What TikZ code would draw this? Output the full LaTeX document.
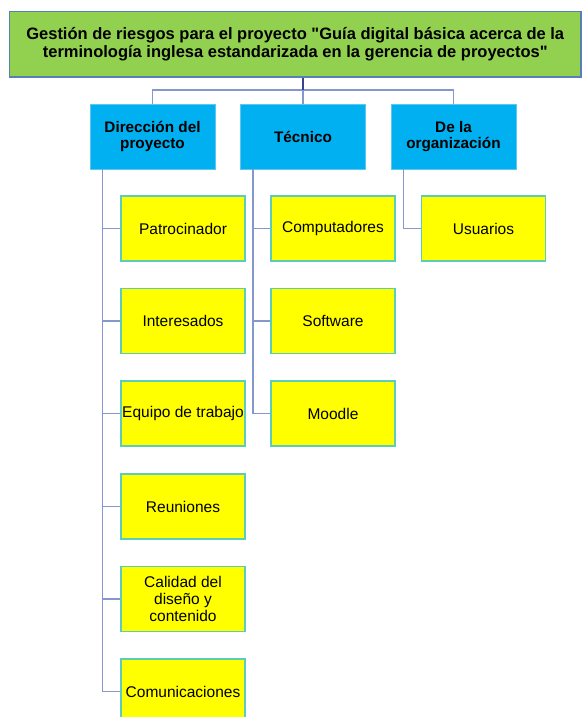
\documentclass[tikz,border=0pt]{standalone}
\usepackage{fontspec}
\setmainfont{Liberation Sans}[Ligatures=TeXOff]
\definecolor{rootfill}{HTML}{92D050}
\definecolor{rootline}{HTML}{5A7FB8}
\definecolor{catfill}{HTML}{00B0F0}
\definecolor{catline}{HTML}{5CC8F0}
\definecolor{leaffill}{HTML}{FFFF00}
\definecolor{leafline}{HTML}{5CCDB8}
\definecolor{wire}{HTML}{8597CC}
\definecolor{wiredark}{HTML}{34458F}
\tikzset{
  rootbox/.style={draw=rootline, line width=1.3pt, fill=rootfill, minimum width=571.5pt, minimum height=65.5pt,
    inner sep=0pt, align=center, font=\fontsize{16.5}{17.5}\selectfont\bfseries},
  catbox/.style={draw=catline, line width=0.8pt, fill=catfill, minimum width=125pt, minimum height=65pt,
    inner sep=0pt, align=center, font=\fontsize{15.3}{16.5}\selectfont\bfseries},
  leafbox/.style={draw=leafline, line width=1.1pt, fill=leaffill, minimum width=124pt, minimum height=65pt,
    inner sep=0pt, align=center, font=\fontsize{15.5}{16.8}\selectfont},
  wireline/.style={draw=wire, line width=1.4pt},
}
\begin{document}
\begin{tikzpicture}[x=1pt, y=-1pt]
\useasboundingbox (0,0) rectangle (582,717);

% root
\node[rootbox] (root) at (295.25,44.25)
  {Gestión de riesgos para el proyecto "Guía digital básica acerca de la\\terminología inglesa estandarizada en la gerencia de proyectos"};

% categories
\node[catbox] (dir) at (152.5,136.5) {Dirección del\\proyecto};
\node[catbox] (tec) at (303,136.5) {Técnico};
\node[catbox] (org) at (453.5,136.5) {De la\\organización};

% leaves
\node[leafbox] (pat) at (183,228.5) {Patrocinador};
\node[leafbox] (int) at (183,321) {Interesados};
\node[leafbox] (equ) at (183,413.5) {Equipo de trabajo};
\node[leafbox] (reu) at (183,506.5) {Reuniones};
\node[leafbox] (cal) at (183,599) {Calidad del\\diseño y\\contenido};
\node[leafbox] (com) at (183,691.5) {Comunicaciones};

\node[leafbox] (cmp) at (333,228.5) {Computadores};
\node[leafbox] (sof) at (333,321) {Software};
\node[leafbox] (moo) at (333,413.5) {Moodle};

\node[leafbox] (usu) at (483.5,228.5) {Usuarios};

% root to categories
\coordinate (hub) at (303,90);
\draw[wireline] (dir.north) |- (hub) -| (org.north);
\draw[wireline] (hub) -- (tec.north);
\draw[draw=wiredark, line width=1.4pt] (root.south -| hub) -- (hub);

% spines under each category, ending at the last child
\coordinate (sd) at ([xshift=13pt]dir.south west);
\coordinate (st) at ([xshift=13pt]tec.south west);
\coordinate (so) at ([xshift=13pt]org.south west);
\draw[wireline] (sd) |- (com.west);
\draw[wireline] (st) |- (moo.west);
\draw[wireline] (so) |- (usu.west);

% branches to the other children
\foreach \c in {pat,int,equ,reu,cal}
  \draw[wireline] (\c.west -| sd) -- (\c.west);
\foreach \c in {cmp,sof}
  \draw[wireline] (\c.west -| st) -- (\c.west);
\end{tikzpicture}
\end{document}
